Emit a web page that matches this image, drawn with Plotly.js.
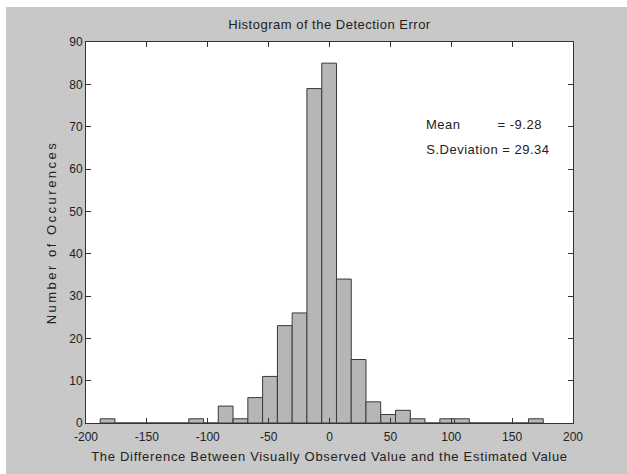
<!DOCTYPE html>
<html>
<head>
<meta charset="utf-8">
<script src="https://cdn.plot.ly/plotly-3.0.1.min.js"></script>
<style>
  html, body { margin: 0; padding: 0; background: #ffffff; }
  #chart { position: absolute; left: 6px; top: 7px; width: 621px; height: 467px; }
</style>
</head>
<body>
<div id="chart"></div>
<script>
// Bin centres of the detection-error histogram (30 bins)
const binCenters = [
  -182.3, -170.2, -158.0, -145.9, -133.8, -121.6, -109.5, -97.4, -85.3, -73.1,
  -61.0, -48.9, -36.7, -24.6, -12.5, -0.3, 11.8, 23.9, 36.0, 48.2,
  60.3, 72.4, 84.6, 96.7, 108.8, 120.9, 133.1, 145.2, 157.3, 169.5
];
// Number of occurrences in each bin
const counts = [
  1, 0, 0, 0, 0, 0, 1, 0, 4, 1,
  6, 11, 23, 26, 79, 85, 34, 15, 5, 2,
  3, 1, 0, 1, 1, 0, 0, 0, 0, 1
];
const binWidth = 12.13;
const xTicks = [-200, -150, -100, -50, 0, 50, 100, 150, 200];
const yTicks = [0, 10, 20, 30, 40, 50, 60, 70, 80, 90];
const statsLines = ['Mean         = -9.28', 'S.Deviation = 29.34'];
const statsX = 81.5;
const statsY = [70.4, 64.6];

const family = 'Liberation Sans, Arial, sans-serif';
const ink = '#222222';
const tickFont = { family: family, size: 12, color: ink };

const trace = {
  type: 'bar',
  x: binCenters,
  y: counts,
  width: binWidth,
  marker: { color: '#b6b6b6', line: { color: '#3a3a3a', width: 1 } },
  hoverinfo: 'x+y'
};

const axisCommon = {
  showgrid: false,
  zeroline: false,
  showline: true,
  linecolor: '#333333',
  linewidth: 1,
  mirror: 'ticks',
  ticks: 'inside',
  ticklen: 5,
  tickcolor: '#333333',
  tickfont: tickFont
};

const layout = {
  width: 621,
  height: 467,
  paper_bgcolor: '#c8c8c8',
  plot_bgcolor: '#ffffff',
  margin: { l: 80, r: 54, t: 35, b: 51 },
  showlegend: false,
  bargap: 0,
  title: {
    text: 'Histogram of the Detection Error',
    font: { family: family, size: 13, color: ink },
    xref: 'paper', x: 0.5, xanchor: 'center',
    y: 0.962, yanchor: 'middle'
  },
  xaxis: Object.assign({}, axisCommon, {
    range: [-200, 200],
    tickvals: xTicks,
    ticktext: xTicks.map(String),
    ticklabelstandoff: 3,
    title: {
      text: 'The Difference Between Visually Observed Value and the Estimated Value',
      font: { family: family, size: 13, color: ink },
      standoff: 8
    }
  }),
  yaxis: Object.assign({}, axisCommon, {
    range: [0, 90],
    tickvals: yTicks,
    ticktext: yTicks.map(String),
    title: {
      text: 'Number of Occurences',
      font: { family: family, size: 13, color: ink },
      standoff: 9
    }
  }),
  annotations: statsLines.map((t, i) => ({
    x: statsX, y: statsY[i], xref: 'x', yref: 'y',
    text: t, showarrow: false, xanchor: 'left', yanchor: 'middle',
    font: { family: family, size: 13, color: ink }
  }))
};

Plotly.newPlot('chart', [trace], layout, { displayModeBar: false, staticPlot: true }).then(gd => {
  // widen the tracking of the text labels a little
  const spacing = [
    ['.g-xtitle text', '0.7px'],
    ['.g-ytitle text', '2.5px'],
    ['.g-gtitle text', '0.5px'],
    ['.annotation-text', '0.5px']
  ];
  spacing.forEach(([sel, ls]) => {
    gd.querySelectorAll(sel).forEach(el => { el.style.letterSpacing = ls; });
  });
});
</script>
</body>
</html>
